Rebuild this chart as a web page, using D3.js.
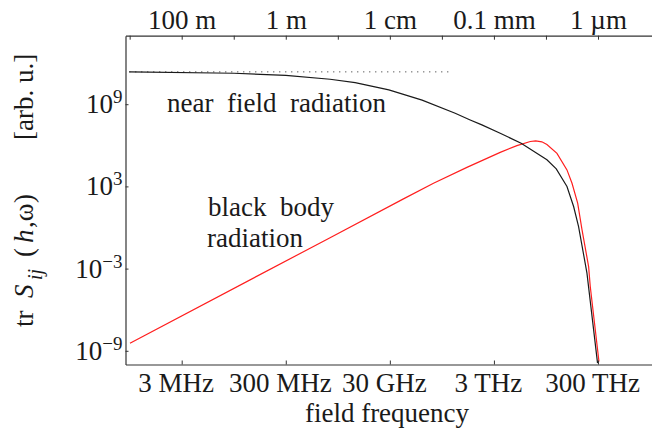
<!DOCTYPE html>
<html>
<head>
<meta charset="utf-8">
<script src="https://cdn.jsdelivr.net/npm/d3@7"></script>
<style>
  body { margin: 0; background: #fff; }
  text { font-family: "Liberation Serif", "Times New Roman", serif; fill: #1a1a1a; }
</style>
</head>
<body>
<div id="chart"></div>
<script>
// near field spectrum (black)
var nearFreq  = [2.95e5, 3.04e7, 3.0e8, 2.13e9, 6.46e9, 2.87e10, 1.25e11, 5.4e11, 1.05e12,
                 1.76e12, 3.96e12, 1.0e13, 3.13e13, 4.73e13, 7.6e13, 1.02e14, 1.27e14, 1.84e14, 2.94e14];
var nearValue = [2.29e11, 1.82e11, 1.26e11, 6.6e10, 3.8e10, 1.1e10, 2.0e9, 2.2e8, 7.1e7,
                 3.1e7, 7.6e6, 1.4e6, 8.7e4, 1.9e4, 980, 34, 1.17, 4.7e-4, 1.26e-10];

// black body spectrum (red)
var bbFreq  = [3.04e5, 2.13e9, 5.48e10, 2.07e11, 9.08e11, 3.96e12, 8.3e12, 1.5e13, 1.9e13, 2.5e13,
               3.13e13, 4.88e13, 7.6e13, 9.5e13, 1.22e14, 1.48e14, 1.98e14, 2.13e14, 3.13e14];
var bbValue = [3.6e-9, 0.18, 123, 1.72e3, 2.45e4, 3.04e5, 9.5e5, 1.9e6, 2.1e6, 1.8e6,
               1.15e6, 2.6e5, 1.6e4, 1.7e3, 60, 0.68, 1.4e-3, 4.9e-5, 1.66e-10];

// dotted static limit
var dotFreq  = [2.95e5, 4.2e11];
var dotValue = [2.29e11, 2.29e11];

// axes ticks
var freqTicks  = [3e6, 3e8, 3e10, 3e12, 3e14];
var freqLabels = ["3 MHz", "300 MHz", "30 GHz", "3 THz", "300 THz"];
var waveTicks  = [1e3, 100, 10, 1, 0.1, 0.01, 1e-3, 1e-4, 1e-5, 1e-6];   // metres
var waveLabels = ["", "100 m", "", "1 m", "", "1 cm", "", "0.1 mm", "", "1 \u00b5m"];
var yTicks     = [1e-9, 1e-3, 1e3, 1e9];
var yExps      = ["\u22129", "\u22123", "3", "9"];

var width = 652, height = 429;
// frame of the axes (note: "top" is taken by window.top)
var fx0 = 125.5, fx1 = 652, fy0 = 35.7, fy1 = 364.5;
var c = 3e8;
var fs = "27px";

var svg = d3.select("#chart").append("svg")
            .attr("width", width)
            .attr("height", height);

// decade spacing taken from the tick positions, then stretched to the frame
var xBase = d3.scaleLog().domain([3e6, 3e14]).range([181.7, 598]);
var x = d3.scaleLog()
          .domain([xBase.invert(fx0), xBase.invert(fx1)])
          .range([fx0, fx1]);
var y = d3.scaleLog().domain([1e-10, 1e14]).range([fy1, fy0]);

svg.append("clipPath").attr("id", "plot")
   .append("rect")
   .attr("x", fx0).attr("y", fy0)
   .attr("width", fx1 - fx0).attr("height", fy1 - fy0);

var line = d3.line()
             .x(function(d) { return x(d[0]); })
             .y(function(d) { return y(d[1]); });

var g = svg.append("g").attr("clip-path", "url(#plot)");

g.append("path")
 .datum(d3.zip(dotFreq, dotValue))
 .attr("d", line)
 .style("fill", "none")
 .style("stroke", "#222")
 .style("stroke-width", 1)
 .style("stroke-dasharray", "1,5");

g.append("path")
 .datum(d3.zip(bbFreq, bbValue))
 .attr("d", line)
 .style("fill", "none")
 .style("stroke", "#ff1f1f")
 .style("stroke-width", 1.2);

g.append("path")
 .datum(d3.zip(nearFreq, nearValue))
 .attr("d", line)
 .style("fill", "none")
 .style("stroke", "#1a1a1a")
 .style("stroke-width", 1.2);

// bottom axis: frequency (labels sit a little left of their ticks)
var xaxis = svg.append("g")
   .attr("transform", "translate(0," + fy1 + ")")
   .call(d3.axisBottom(x).tickValues(freqTicks)
           .tickFormat(function(d, i) { return freqLabels[i]; })
           .tickSize(-4).tickSizeOuter(0));
xaxis.selectAll("text").attr("y", 27).attr("dy", 0).attr("x", -6)
     .style("font-size", fs).style("font-family", null).style("fill", "#1a1a1a");

// top axis: wavelength
var taxis = svg.append("g")
   .attr("transform", "translate(0," + fy0 + ")")
   .call(d3.axisTop(x).tickValues(waveTicks.map(function(l) { return c / l; }))
           .tickFormat(function(d, i) { return waveLabels[i]; })
           .tickSize(-4).tickSizeOuter(0));
taxis.selectAll("text").attr("y", -6.5).attr("dy", 0)
     .style("font-size", fs).style("font-family", null).style("fill", "#1a1a1a");

// left axis
var yaxis = svg.append("g")
   .attr("transform", "translate(" + fx0 + ",0)")
   .call(d3.axisLeft(y).tickValues(yTicks).tickFormat("")
           .tickSize(-3).tickSizeOuter(0));
yaxis.selectAll(".tick").each(function(d, i) {
  var t = d3.select(this).append("text")
            .attr("x", -3).attr("y", 8.5)
            .attr("text-anchor", "end")
            .style("font-size", fs).style("font-family", null).style("fill", "#1a1a1a");
  t.append("tspan").text("10");
  t.append("tspan").attr("dy", -10).style("font-size", "19px").text(yExps[i]);
});

svg.selectAll(".domain").style("stroke", "#333").style("stroke-width", 1.2);
svg.selectAll(".tick line").style("stroke", "#333").style("stroke-width", 1);

// curve labels
svg.append("text")
   .attr("x", 167).attr("y", 112)
   .style("font-size", fs)
   .style("white-space", "pre")
   .text("near  field  radiation");

svg.append("text")
   .attr("x", 208).attr("y", 216)
   .style("font-size", fs)
   .style("white-space", "pre")
   .text("black  body");

svg.append("text")
   .attr("x", 207).attr("y", 247)
   .style("font-size", fs)
   .text("radiation");

// axis titles
svg.append("text")
   .attr("x", 387).attr("y", 422)
   .attr("text-anchor", "middle")
   .style("font-size", fs)
   .text("field frequency");

var ylab = svg.append("text")
              .attr("transform", "translate(33,0) rotate(-90)")
              .style("font-size", fs);
ylab.append("tspan").attr("x", -327).text("tr");
ylab.append("tspan").attr("x", -298).style("font-style", "italic").text("S");
ylab.append("tspan").attr("x", -280).attr("dy", 9).style("font-size", "20px")
    .style("font-style", "italic").text("ij");
ylab.append("tspan").attr("x", -257).attr("dy", -9).text("(");
ylab.append("tspan").attr("x", -243).style("font-style", "italic").text("h");
ylab.append("tspan").attr("x", -228).text(",\u03c9");
ylab.append("tspan").attr("x", -203).text(")");
ylab.append("tspan").attr("x", -140).text("[arb. u.]");
</script>
</body>
</html>
